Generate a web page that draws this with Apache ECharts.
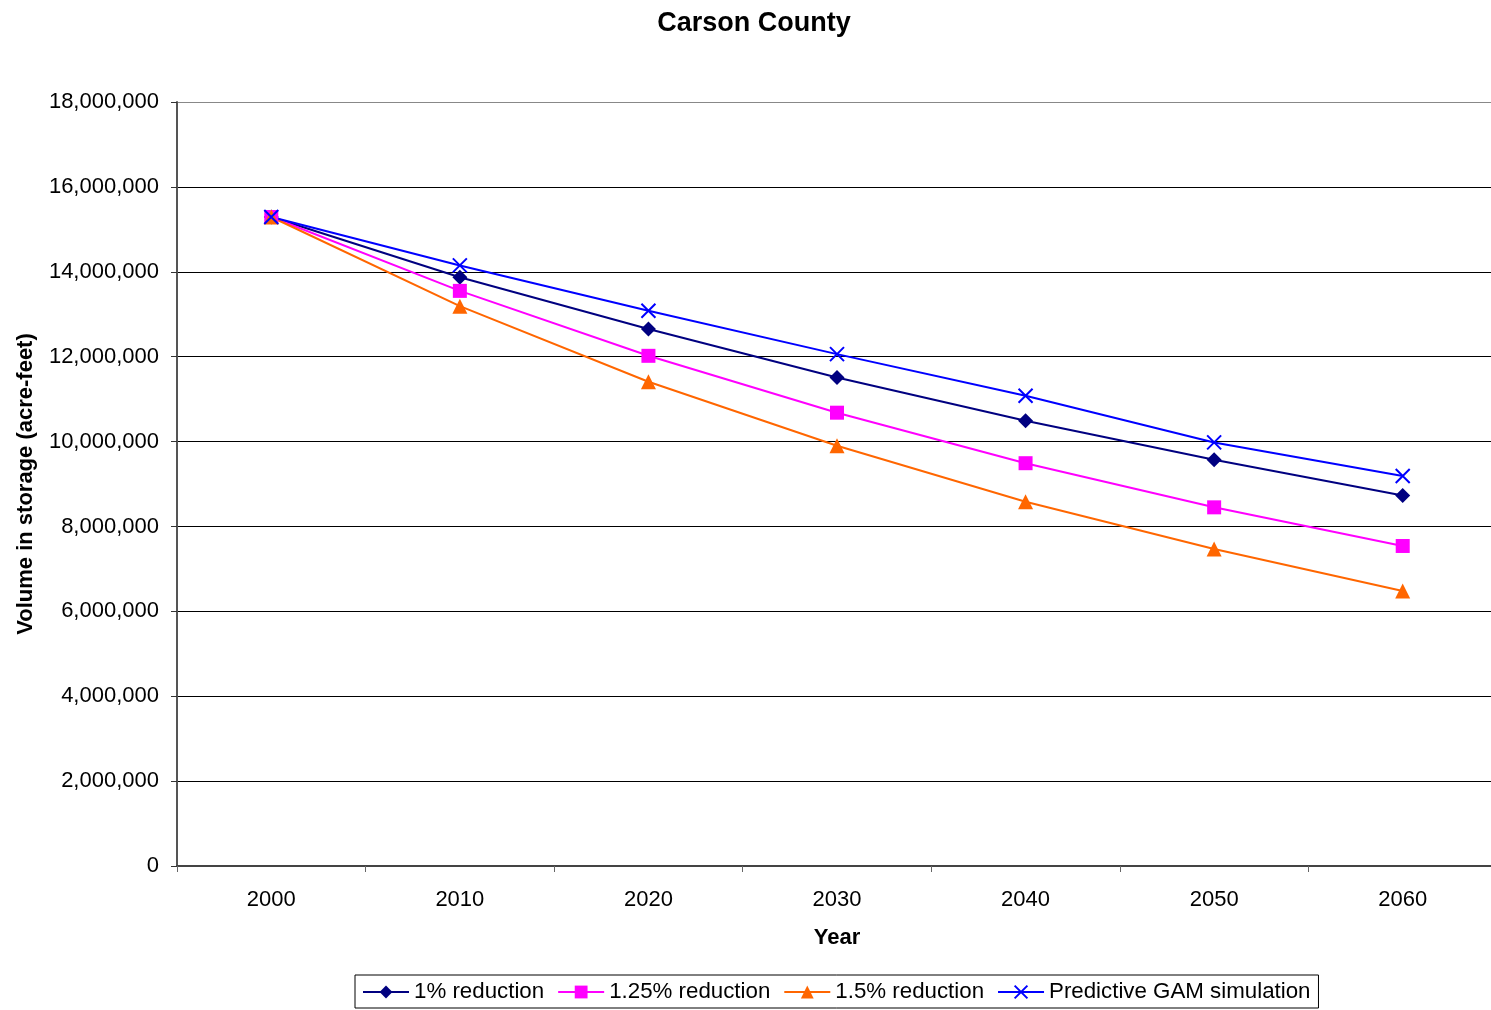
<!DOCTYPE html>
<html>
<head>
<meta charset="utf-8">
<title>Carson County</title>
<script src="https://cdn.jsdelivr.net/npm/echarts@6/dist/echarts.min.js"></script>
<style>
  html, body { margin: 0; padding: 0; background: #fff; overflow: hidden; }
  /* the plot area runs slightly past the right edge of the page */
  #chart { width: 1500px; height: 1010px; }
</style>
</head>
<body>
<div id="chart"></div>
<script>
// Projected groundwater storage volumes (acre-feet), Carson County
const years = ['2000', '2010', '2020', '2030', '2040', '2050', '2060'];
const reduction1 = [15290000, 13870000, 12650000, 11510000, 10490000, 9570000, 8730000];
const reduction125 = [15290000, 13550000, 12020000, 10680000, 9490000, 8450000, 7540000];
const reduction15 = [15290000, 13190000, 11410000, 9900000, 8580000, 7470000, 6480000];
const gamSimulation = [15290000, 14150000, 13080000, 12060000, 11080000, 9980000, 9190000];
const yTicks = { min: 0, max: 18000000, interval: 2000000 };

const FONT = '"Liberation Sans", Arial, sans-serif';
const crossSymbol = 'path://M0,0L10,10M10,0L0,10';

// gridlines are black; the top one doubles as the plot border and is grey
const gridCount = Math.round((yTicks.max - yTicks.min) / yTicks.interval) + 1;
const gridColors = Array.from({ length: gridCount }, (_, i) => (i === gridCount - 1 ? '#888' : '#000'));

const chart = echarts.init(document.getElementById('chart'), null, { renderer: 'canvas' });

function lineSeries(name, data, color, symbol, size, extra) {
  return Object.assign({
    name: name,
    type: 'line',
    data: data,
    symbol: symbol,
    symbolSize: size,
    showAllSymbol: true,
    lineStyle: { color: color, width: 2 },
    itemStyle: { color: color },
    emphasis: { disabled: true },
    animation: false
  }, extra || {});
}

chart.setOption({
  backgroundColor: '#ffffff',
  textStyle: { fontFamily: FONT },
  title: {
    text: 'Carson County',
    left: 749,
    textAlign: 'center',
    top: 5,
    textStyle: { fontFamily: FONT, fontSize: 27, fontWeight: 'bold', color: '#000' }
  },
  legend: {
    top: 975,
    left: 355,
    itemWidth: 46,
    itemHeight: 16,
    itemGap: 13,
    padding: [6, 8, 5, 7],
    borderColor: '#000',
    borderWidth: 1,
    textStyle: { fontFamily: FONT, fontSize: 22.3, color: '#000' },
    data: ['1% reduction', '1.25% reduction', '1.5% reduction', 'Predictive GAM simulation']
  },
  grid: {
    left: 177,
    top: 102,
    width: 1320,
    bottom: 144,
    containLabel: false
  },
  xAxis: {
    type: 'category',
    data: years,
    boundaryGap: true,
    name: 'Year',
    nameLocation: 'middle',
    nameGap: 61,
    nameTextStyle: { fontFamily: FONT, fontSize: 22, fontWeight: 'bold', color: '#000' },
    axisLine: { lineStyle: { color: '#444', width: 2 } },
    axisTick: { show: true, alignWithLabel: false, length: 6, lineStyle: { color: '#666', width: 1 } },
    axisLabel: { fontFamily: FONT, fontSize: 22, color: '#000', margin: 23 },
    splitLine: { show: false }
  },
  yAxis: {
    type: 'value',
    min: yTicks.min,
    max: yTicks.max,
    interval: yTicks.interval,
    name: 'Volume in storage (acre-feet)',
    nameLocation: 'middle',
    nameGap: 140,
    nameRotate: 90,
    nameTextStyle: { fontFamily: FONT, fontSize: 22, fontWeight: 'bold', color: '#000' },
    axisLine: { show: true, lineStyle: { color: '#555', width: 2 } },
    axisTick: { show: true, length: 6, lineStyle: { color: '#333', width: 1 } },
    axisLabel: {
      fontFamily: FONT, fontSize: 22, color: '#000', margin: 18,
      formatter: v => v.toLocaleString('en-US')
    },
    splitLine: { show: true, lineStyle: { color: gridColors, width: 1 } }
  },
  series: [
    lineSeries('1% reduction', reduction1, '#000080', 'diamond', 15),
    lineSeries('1.25% reduction', reduction125, '#FF00FF', 'rect', 14),
    lineSeries('1.5% reduction', reduction15, '#FF6600', 'triangle', 15),
    lineSeries('Predictive GAM simulation', gamSimulation, '#0000FF', crossSymbol, 14, {
      itemStyle: { color: 'rgba(0,0,0,0)', borderColor: '#0000FF', borderWidth: 2 }
    })
  ]
});
</script>
</body>
</html>
